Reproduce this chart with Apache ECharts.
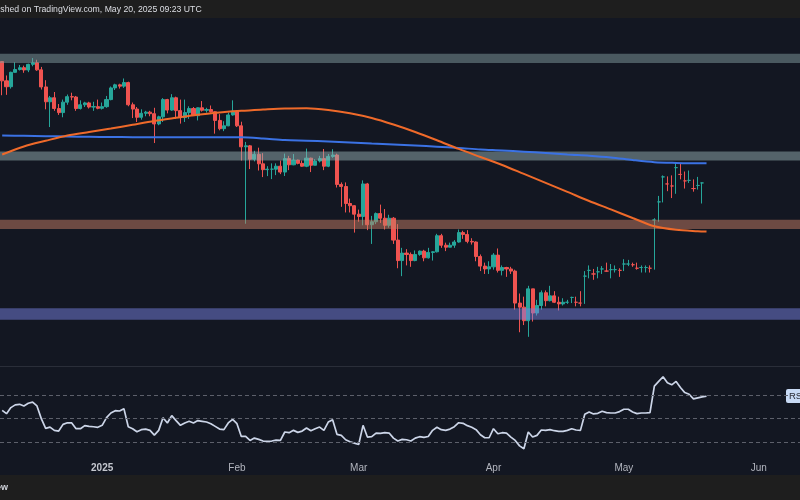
<!DOCTYPE html>
<html><head><meta charset="utf-8">
<script src="https://cdn.jsdelivr.net/npm/echarts@6/dist/echarts.min.js"></script>
<style>html,body{margin:0;padding:0;background:#1e1e1e;}#c{width:800px;height:500px;}</style>
</head><body><div id="c"></div>
<script>
// ---- categories: daily calendar from 2024-12-09 to 2025-06-10 ----
const firstDay = [2024, 11, 9];
const dayCount = 184;
const dates = [];
for (let i = 0; i < dayCount; i++) {
  const d = new Date(Date.UTC(firstDay[0], firstDay[1], firstDay[2]) + i * 86400000);
  dates.push(d.toISOString().slice(0, 10));
}
// ---- x tick labels ----
const tickDates  = ['2025-01-01', '2025-02-01', '2025-03-01', '2025-04-01', '2025-05-01', '2025-06-01'];
const tickLabels = ['2025', 'Feb', 'Mar', 'Apr', 'May', 'Jun'];

// ---- daily candles (ETH/USD), Dec 9 2024 .. May 20 2025 ----
const open = [4055,3760,3675,3887,3930,3958,3923,4010,4035,3925,3672,3465,3520,3375,3322,3460,3535,3530,3375,3425,3450,3395,3400,
3378,3400,3495,3658,3702,3683,3735,3425,3368,3262,3313,3328,3308,3178,3268,3495,3355,3520,3348,3258,3322,3375,3282,3385,3352,3362,3333,3222,3120,3155,3292,
3343,3155,2907,2918,2770,2823,2720,2659,2664,2664,2695,2634,2776,2710,2760,2725,2695,2781,2705,2750,2776,2695,2800,2815,2510,2490,2330,2310,
2235,2215,2515,2145,2170,2240,2200,2140,2200,2020,1865,1920,1910,1865,1910,1935,1885,1925,1930,2055,1980,1965,1980,2005,2080,2065,2010,2005,1895,1825,1805,
1820,1905,1795,1815,1805,1790,1580,1555,1475,1670,1520,1565,1645,1595,1625,1585,1575,1585,1615,1585,1580,1755,1795,1770,1785,1805,1790,1800,1800,
1795,1840,1840,1835,1810,1815,1815,1810,2185,2345,2585,2515,2495,2680,2610,2545,2550,2470,2500,2525];
const high = [4062,3840,3897,4042,4000,3990,4020,4110,4082,3970,3770,3545,3600,3435,3495,3565,3590,3545,3485,3465,3465,3465,3495,
3455,3545,3678,3718,3718,3795,3748,3455,3395,3365,3345,3345,3385,3282,3515,3505,3570,3535,3495,3495,3405,3395,3390,3475,3385,3415,3338,3302,3212,3322,3485,
3353,3206,2963,2928,2862,2897,2836,2695,2725,2725,2755,2831,2806,2826,2765,2755,2887,2786,2770,2806,2882,2827,2880,2830,2530,2530,2375,2315,
2275,2550,2525,2220,2250,2320,2280,2230,2210,2150,1960,1950,1925,1940,1940,1945,1960,1935,2070,2070,2000,2000,2020,2105,2095,2100,2035,2010,1910,1850,1860,
1920,1955,1830,1820,1820,1800,1640,1620,1690,1670,1600,1660,1660,1690,1655,1620,1610,1600,1620,1620,1655,1790,1830,1805,1820,1825,1850,1840,1830,1810,
1875,1870,1850,1850,1830,1830,1830,2200,2400,2600,2590,2600,2740,2720,2640,2650,2560,2585,2530,2550];
const low = [3555,3560,3648,3880,3915,3880,3890,3980,3910,3635,3365,3140,3345,3292,3262,3425,3485,3345,3362,3395,3375,3345,3365,
3362,3385,3485,3628,3648,3658,3405,3252,3202,3232,3275,3275,2950,3162,3202,3312,3345,3242,3182,3202,3242,3282,3222,3335,3322,3322,3060,3100,3090,3150,3282,
3140,2755,2153,2665,2746,2650,2583,2593,2563,2603,2613,2594,2654,2705,2715,2690,2685,2634,2705,2735,2654,2685,2785,2480,2300,2250,2250,2080,
2170,2140,2100,1990,2150,2160,2105,2120,1990,1810,1755,1830,1820,1860,1900,1860,1880,1865,1925,1960,1935,1965,1960,2000,2030,1995,1985,1860,1790,1770,1770,
1800,1780,1760,1750,1770,1540,1410,1450,1385,1470,1505,1540,1560,1590,1580,1535,1565,1575,1580,1560,1560,1575,1740,1730,1740,1770,1785,1740,1780,1750,
1790,1825,1820,1800,1780,1780,1780,1800,2170,2340,2445,2380,2420,2560,2470,2525,2440,2460,2330,2500];
const close = [3760,3675,3887,3930,3958,3923,4010,4035,3925,3672,3465,3520,3375,3322,3460,3535,3530,3375,3425,3450,3395,3400,3378,
3400,3495,3658,3702,3683,3735,3425,3368,3262,3313,3328,3308,3178,3268,3495,3355,3520,3348,3258,3322,3375,3282,3385,3352,3362,3333,3222,3120,3155,3292,3343,
3155,2907,2918,2770,2823,2720,2659,2664,2664,2695,2634,2776,2710,2760,2725,2695,2781,2705,2750,2776,2695,2800,2815,2510,2490,2330,2310,2235,
2215,2515,2145,2170,2240,2200,2140,2200,2020,1865,1920,1910,1865,1910,1935,1885,1925,1930,2055,1980,1965,1980,2005,2080,2065,2010,2005,1895,1825,1805,1820,
1905,1795,1815,1805,1790,1580,1555,1475,1670,1520,1565,1645,1595,1625,1585,1575,1585,1585,1615,1585,1580,1755,1795,1770,1785,1805,1790,1800,1800,1795,
1840,1840,1835,1810,1815,1815,1810,2185,2345,2585,2515,2495,2680,2610,2545,2550,2470,2500,2525,2535];

// ---- moving averages (every 5 days) ----
const maDates = ['2024-12-09','2024-12-14','2024-12-19','2024-12-24','2024-12-29','2025-01-03','2025-01-08','2025-01-13',
'2025-01-18','2025-01-23','2025-01-28','2025-02-02','2025-02-07','2025-02-12','2025-02-17','2025-02-22','2025-02-27',
'2025-03-04','2025-03-09','2025-03-14','2025-03-19','2025-03-24','2025-03-29','2025-04-03','2025-04-08','2025-04-13',
'2025-04-18','2025-04-23','2025-04-28','2025-05-03','2025-05-08','2025-05-13','2025-05-18','2025-05-20'];
const maBlue = [3038,3035,3030,3026,3023,3020,3018,3017,3017,3017,3017,3016,3003,2985,2977,2968,2957,2945,2934,2922,
2908,2894,2877,2866,2852,2838,2821,2808,2789,2761,2738,2730,2726,2726];
const maOrange = [2821,2911,2976,3038,3080,3121,3168,3215,3255,3294,3323,3345,3361,3375,3378,3356,3314,3253,3171,3080,
2982,2883,2794,2708,2615,2525,2438,2353,2277,2202,2132,2103,2091,2088];

// ---- RSI (one value per day) ----
const rsi = [57.1,54.2,59.4,61.7,62.2,60.8,63.1,64.0,60.8,50.0,41.7,42.8,40.0,39.4,45.1,46.5,46.3,41.4,41.4,44.0,43.4,43.1,42.6,
44.3,50.8,54.8,56.8,56.5,58.5,43.1,41.4,38.8,40.6,41.1,40.0,36.0,40.0,50.8,46.3,52.6,48.3,44.3,46.3,47.7,46.3,48.3,47.7,47.1,45.7,43.4,41.1,40.6,46.3,49.4,
45.7,34.8,34.8,31.4,33.4,32.3,30.9,30.6,30.9,31.7,31.4,38.6,38.0,40.0,38.3,39.4,42.0,39.7,41.4,42.8,40.0,47.1,49.1,36.6,35.7,32.0,30.3,29.1,
28.0,44.3,34.3,34.6,37.7,37.4,38.0,37.7,33.4,30.9,32.3,32.0,30.9,33.4,34.6,34.0,34.8,40.0,42.6,40.6,40.0,41.1,43.1,46.5,46.0,44.0,42.6,40.6,36.3,
33.7,33.7,41.4,37.1,38.0,37.7,34.3,31.4,26.8,24.3,38.6,34.3,35.7,40.3,40.0,40.6,39.7,39.1,39.1,40.0,41.4,40.3,40.0,53.7,55.7,54.0,54.5,56.3,55.1,
54.8,54.8,56.0,58.0,58.0,55.7,54.3,54.8,54.8,55.1,77.7,81.7,85.7,80.5,78.8,81.7,76.5,72.2,70.8,66.8,67.7,68.5,69.1];
const rsiLevels = [70, 50, 30];

// ---- horizontal zones [low, high] ----
const zoneLow  = [4030, 2755, 2110, 1480];
const zoneHigh = [4180, 2853, 2186, 1549];
const zoneColors = ['rgba(130,155,158,0.5)', 'rgba(150,175,178,0.5)', 'rgba(200,125,100,0.5)', 'rgba(120,130,225,0.5)'];

const candles = open.map((o, i) => [o, close[i], low[i], high[i]]);
const blueLine = maDates.map((d, i) => [d, maBlue[i]]);
const orangeLine = maDates.map((d, i) => [d, maOrange[i]]);

const FONT = '"Liberation Sans", Arial, sans-serif';
const chart = echarts.init(document.getElementById('c'), null, {renderer: 'canvas'});
chart.setOption({
  backgroundColor: '#131722',
  animation: false,
  grid: [
    {left: -3, right: -1, top: 18, height: 348},
    {left: -3, right: -1, top: 367, height: 88}
  ],
  xAxis: [
    {type: 'category', gridIndex: 0, data: dates, boundaryGap: true, show: false},
    {type: 'category', gridIndex: 1, data: dates, boundaryGap: true,
      axisLine: {show: false}, axisTick: {show: false}, splitLine: {show: false},
      axisLabel: {
        margin: 8, color: '#b2b5be', fontSize: 10, fontFamily: FONT,
        interval: (idx, val) => tickDates.indexOf(val) >= 0,
        formatter: (val) => {
          const k = tickDates.indexOf(val);
          if (k < 0) return '';
          return k === 0 ? '{b|' + tickLabels[k] + '}' : tickLabels[k];
        },
        rich: {b: {fontWeight: 'bold', color: '#c4c7cf', fontSize: 10, fontFamily: FONT}}
      }
    }
  ],
  yAxis: [
    {type: 'log', gridIndex: 0, min: 1236, max: 4805, show: false, splitLine: {show: false}},
    {type: 'value', gridIndex: 1, min: 19, max: 94, show: false, splitLine: {show: false}}
  ],
  series: [
    {
      type: 'candlestick', xAxisIndex: 0, yAxisIndex: 0, z: 2, barWidth: 3.6,
      data: candles,
      itemStyle: {color: '#26a69a', color0: '#ef5350', borderColor: '#26a69a', borderColor0: '#ef5350', borderWidth: 1}
    },
    {
      type: 'custom', xAxisIndex: 0, yAxisIndex: 0, z: 3, silent: true,
      data: zoneLow.map((lo, i) => [0, lo, zoneHigh[i], i]),
      encode: {x: 0, y: [1, 2]},
      renderItem: (params, api) => {
        const cs = params.coordSys;
        const yTop = api.coord([0, api.value(2)])[1];
        const yBot = api.coord([0, api.value(1)])[1];
        return {type: 'rect', shape: {x: cs.x, y: yTop, width: cs.width, height: yBot - yTop},
          style: {fill: zoneColors[api.value(3)]}};
      }
    },
    {
      type: 'line', xAxisIndex: 0, yAxisIndex: 0, z: 4, data: blueLine, showSymbol: false, symbol: 'none',
      smooth: 0.3, lineStyle: {color: '#3b72e4', width: 2}
    },
    {
      type: 'line', xAxisIndex: 0, yAxisIndex: 0, z: 4, data: orangeLine, showSymbol: false, symbol: 'none',
      smooth: 0.3, lineStyle: {color: '#ef6a2a', width: 2}
    },
    {
      type: 'line', xAxisIndex: 1, yAxisIndex: 1, z: 4, data: rsi, showSymbol: false, symbol: 'none',
      lineStyle: {color: '#ccd5e8', width: 1.7},
      markLine: {
        silent: true, symbol: ['none', 'none'], label: {show: false},
        lineStyle: {color: '#5d606b', width: 1, type: [4, 3]},
        data: rsiLevels.map(v => ({yAxis: v}))
      }
    }
  ],
  graphic: [
    {type: 'rect', left: 0, top: 0, shape: {width: 800, height: 18}, style: {fill: '#1e1e1e'}},
    {type: 'rect', left: 0, top: 475, shape: {width: 800, height: 25}, style: {fill: '#1e1e1e'}},
    {type: 'rect', left: 0, top: 366, shape: {width: 800, height: 1}, style: {fill: '#2a2e39'}},
    {type: 'text', x: -19, y: 10, style: {text: 'Published on TradingView.com, May 20, 2025 09:23 UTC', fill: '#dcdee4',
      font: '8.7px ' + FONT, verticalAlign: 'middle'}},
    {type: 'text', x: 8, y: 488, style: {text: 'TradingView', fill: '#d1d4dc', font: 'bold 9px ' + FONT,
      align: 'right', verticalAlign: 'middle'}},
    {type: 'text', x: 786, y: 396, style: {text: 'RSI', fill: '#2a2e39', font: '9.5px ' + FONT,
      verticalAlign: 'middle', backgroundColor: '#c8daf5', padding: [2, 3, 2, 3], borderRadius: 2}}
  ]
});
</script></body></html>
